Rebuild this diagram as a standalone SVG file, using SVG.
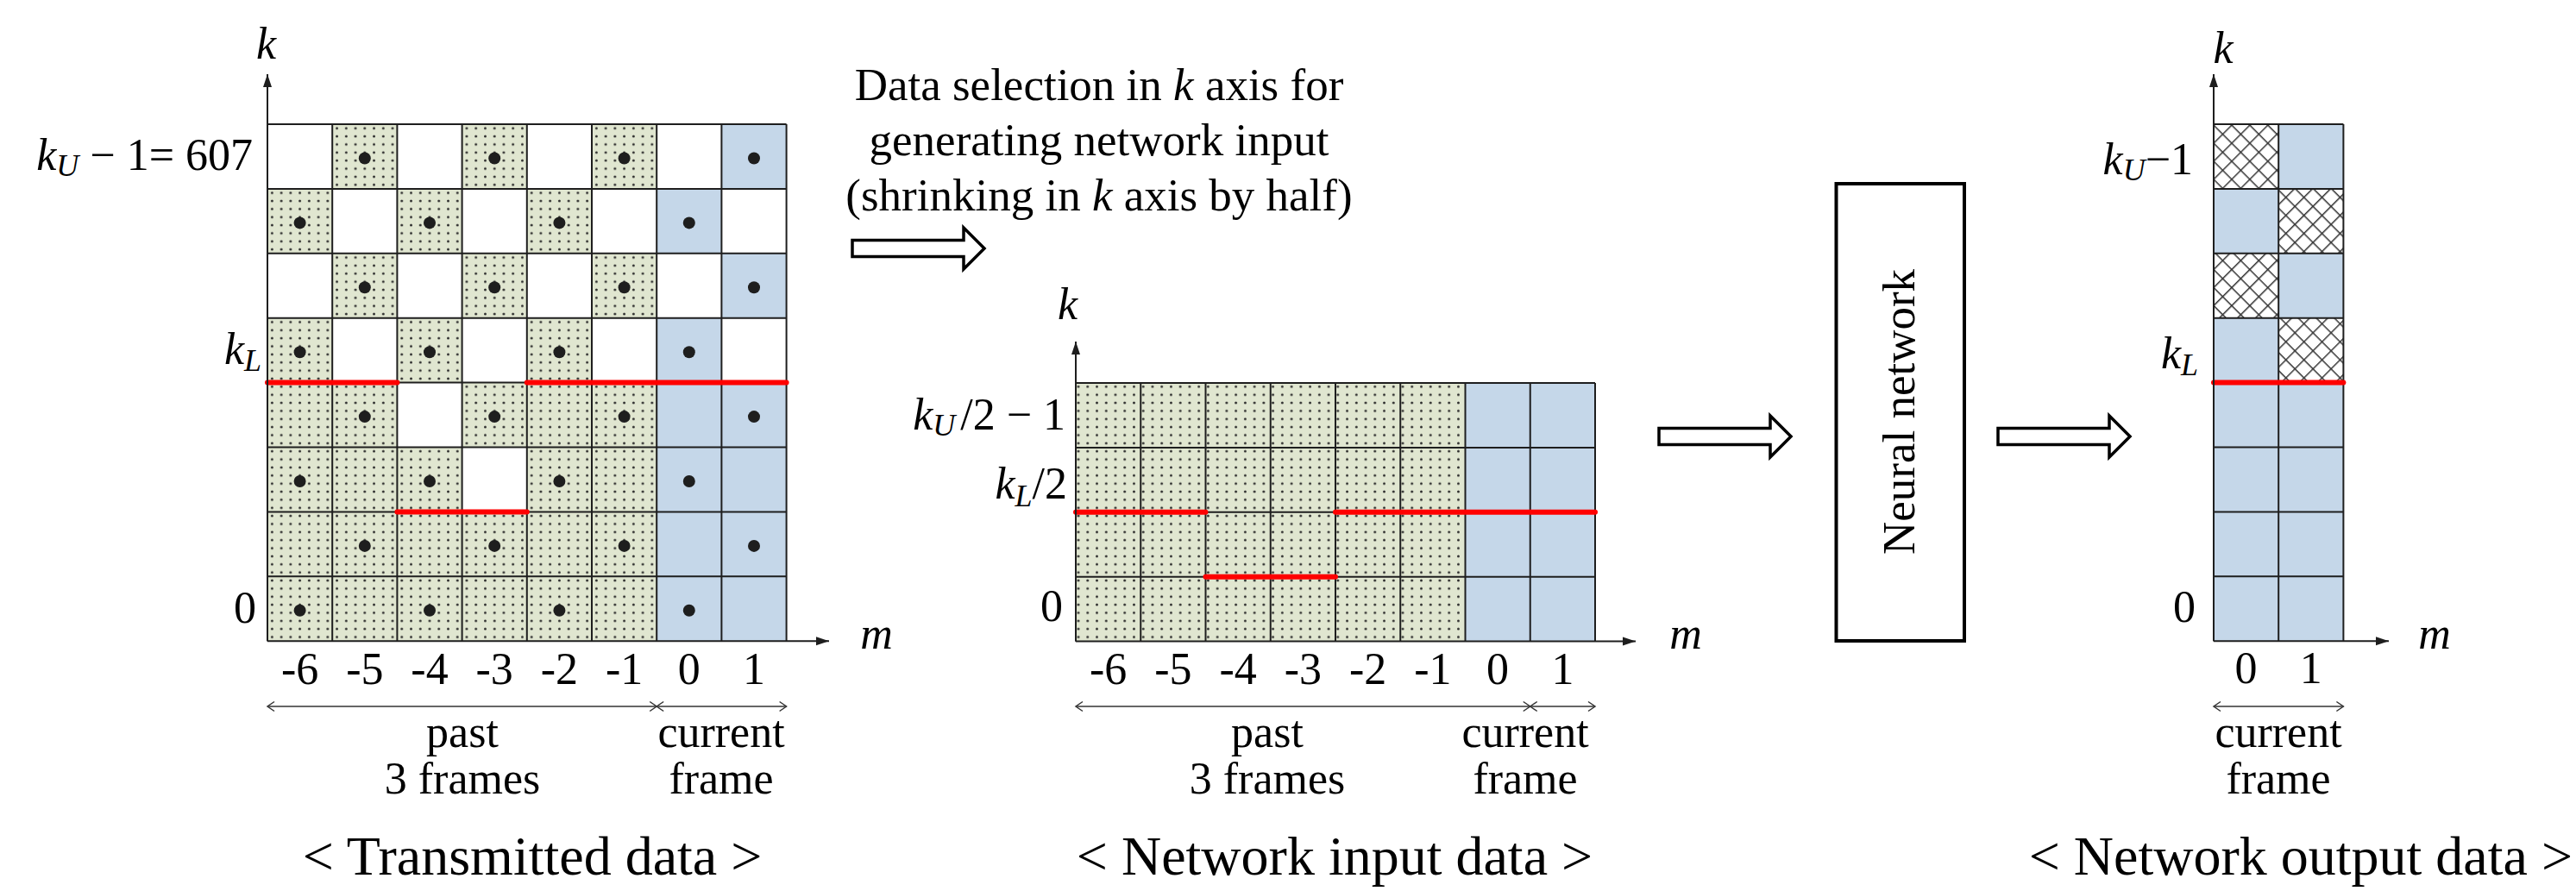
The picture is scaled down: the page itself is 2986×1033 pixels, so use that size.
<svg xmlns="http://www.w3.org/2000/svg" width="2986" height="1033" viewBox="0 0 2986 1033">
<style>
text{font-family:"Liberation Serif","Times New Roman",serif;fill:#000}
.t52{font-size:52px}
.t53{font-size:53px}
.t64{font-size:64px}
.i{font-style:italic}
.sub{font-size:36px;font-style:italic}
.grid{fill:none;stroke:#1e1e1e;stroke-width:2}
.red{fill:none;stroke:#ff0000;stroke-width:6;stroke-linecap:round}
.ax{fill:none;stroke:#1e1e1e;stroke-width:2;marker-end:url(#ah)}
.br{fill:none;stroke:#333;stroke-width:1.5;marker-start:url(#ch);marker-end:url(#ch)}
.g{fill:url(#stip)}
.b{fill:#c5d7e9}
.w{fill:#ffffff}
.h{fill:url(#hatch)}
.d{fill:#1e1e1e}
.blk{fill:#fff;stroke:#000;stroke-width:3.5;stroke-linejoin:miter}
</style>
<defs>
<pattern id="stip" patternUnits="userSpaceOnUse" x="310" y="144" width="10.743" height="9.3625">
<rect width="10.743" height="9.3625" fill="#e0e6d0"/>
<circle cx="5.37" cy="4.68" r="1.45" fill="#2a2a2a"/>
</pattern>
<pattern id="hatch" patternUnits="userSpaceOnUse" x="2566" y="144" width="14.8" height="14.8" patternTransform="rotate(45 2566 144)">
<rect width="14.8" height="14.8" fill="#fff"/>
<rect width="14.8" height="1.5" fill="#333"/>
<rect width="1.5" height="14.8" fill="#333"/>
</pattern>
<marker id="ah" viewBox="-16 -6 17 12" refX="0" refY="0" markerWidth="17" markerHeight="12" markerUnits="userSpaceOnUse" orient="auto">
<path d="M-15,-5 L0,0 L-15,5 Z" fill="#1e1e1e"/>
</marker>
<marker id="ch" viewBox="-10 -7 12 14" refX="0" refY="0" markerWidth="12" markerHeight="14" markerUnits="userSpaceOnUse" orient="auto-start-reverse">
<path d="M-8,-5.5 L0,0 L-8,5.5" fill="none" stroke="#333" stroke-width="1.5"/>
</marker>
<path id="blockarrow" d="M0,-9.5 H129 V-24 L153,0 L129,24 V9.5 H0 Z"/>
</defs>

<rect width="2986" height="1033" fill="#fff"/>

<!-- Transmitted data -->
<g id="transmitted">
<rect class="g" x="310" y="144" width="451.2" height="599.2"/>
<rect class="b" x="761.2" y="144" width="150.4" height="599.2"/>
<g class="w">
<rect x="310" y="144" width="75.2" height="74.9"/><rect x="460.4" y="144" width="75.2" height="74.9"/><rect x="610.8" y="144" width="75.2" height="74.9"/><rect x="761.2" y="144" width="75.2" height="74.9"/>
<rect x="385.2" y="218.9" width="75.2" height="74.9"/><rect x="535.6" y="218.9" width="75.2" height="74.9"/><rect x="686" y="218.9" width="75.2" height="74.9"/><rect x="836.4" y="218.9" width="75.2" height="74.9"/>
<rect x="310" y="293.8" width="75.2" height="74.9"/><rect x="460.4" y="293.8" width="75.2" height="74.9"/><rect x="610.8" y="293.8" width="75.2" height="74.9"/><rect x="761.2" y="293.8" width="75.2" height="74.9"/>
<rect x="385.2" y="368.7" width="75.2" height="74.9"/><rect x="535.6" y="368.7" width="75.2" height="74.9"/><rect x="686" y="368.7" width="75.2" height="74.9"/><rect x="836.4" y="368.7" width="75.2" height="74.9"/>
<rect x="460.4" y="443.6" width="75.2" height="74.9"/>
<rect x="535.6" y="518.5" width="75.2" height="74.9"/>
</g>
<g class="d">
<circle cx="422.8" cy="183.5" r="7"/><circle cx="573.2" cy="183.5" r="7"/><circle cx="723.6" cy="183.5" r="7"/><circle cx="874" cy="183.5" r="7"/>
<circle cx="347.6" cy="258.4" r="7"/><circle cx="498" cy="258.4" r="7"/><circle cx="648.4" cy="258.4" r="7"/><circle cx="798.8" cy="258.4" r="7"/>
<circle cx="422.8" cy="333.3" r="7"/><circle cx="573.2" cy="333.3" r="7"/><circle cx="723.6" cy="333.3" r="7"/><circle cx="874" cy="333.3" r="7"/>
<circle cx="347.6" cy="408.2" r="7"/><circle cx="498" cy="408.2" r="7"/><circle cx="648.4" cy="408.2" r="7"/><circle cx="798.8" cy="408.2" r="7"/>
<circle cx="422.8" cy="483.1" r="7"/><circle cx="573.2" cy="483.1" r="7"/><circle cx="723.6" cy="483.1" r="7"/><circle cx="874" cy="483.1" r="7"/>
<circle cx="347.6" cy="558" r="7"/><circle cx="498" cy="558" r="7"/><circle cx="648.4" cy="558" r="7"/><circle cx="798.8" cy="558" r="7"/>
<circle cx="422.8" cy="632.9" r="7"/><circle cx="573.2" cy="632.9" r="7"/><circle cx="723.6" cy="632.9" r="7"/><circle cx="874" cy="632.9" r="7"/>
<circle cx="347.6" cy="707.8" r="7"/><circle cx="498" cy="707.8" r="7"/><circle cx="648.4" cy="707.8" r="7"/><circle cx="798.8" cy="707.8" r="7"/>
</g>
<path class="grid" d="M310,144V743.2M385.2,144V743.2M460.4,144V743.2M535.6,144V743.2M610.8,144V743.2M686,144V743.2M761.2,144V743.2M836.4,144V743.2M911.6,144V743.2M310,144H911.6M310,218.9H911.6M310,293.8H911.6M310,368.7H911.6M310,443.6H911.6M310,518.5H911.6M310,593.4H911.6M310,668.3H911.6"/>
<path class="red" d="M310,443.6H460.4M610.8,443.6H911.6M460.4,593.4H610.8"/>
<path class="ax" d="M310,743.2V86"/>
<path class="ax" d="M310,743.2H961"/>
<text class="t52 i" x="308.5" y="68" text-anchor="middle">k</text>
<text class="t52 i" x="1016" y="752" text-anchor="middle">m</text>
<text class="t52" x="293" y="197" text-anchor="end"><tspan class="i">k</tspan><tspan class="sub" dy="7">U</tspan><tspan dy="-7"> − 1= 607</tspan></text>
<text class="t52" x="303" y="422" text-anchor="end"><tspan class="i">k</tspan><tspan class="sub" dy="8">L</tspan></text>
<text class="t52" x="297" y="722" text-anchor="end">0</text>
<g class="t52" text-anchor="middle">
<text x="347.6" y="793">-6</text><text x="422.8" y="793">-5</text><text x="498" y="793">-4</text><text x="573.2" y="793">-3</text><text x="648.4" y="793">-2</text><text x="723.6" y="793">-1</text><text x="798.8" y="793">0</text><text x="874" y="793">1</text>
</g>
<path class="br" d="M310,819H761.2"/>
<path class="br" d="M761.2,819H911.6"/>
<g class="t52" text-anchor="middle">
<text x="536" y="866">past</text><text x="536" y="920">3 frames</text>
<text x="836" y="866">current</text><text x="836" y="920">frame</text>
</g>
<text class="t64" x="617" y="1014" text-anchor="middle">&lt; Transmitted data &gt;</text>
</g>

<!-- Top note -->
<g id="note" class="t53" text-anchor="middle">
<text x="1274" y="116">Data selection in <tspan class="i">k</tspan> axis for</text>
<text x="1274" y="180">generating network input</text>
<text x="1274" y="244">(shrinking in <tspan class="i">k</tspan> axis by half)</text>
</g>

<!-- Network input data -->
<g id="network-input">
<rect class="g" x="1247" y="444" width="451.5" height="299.6"/>
<rect class="b" x="1698.5" y="444" width="150.5" height="299.6"/>
<path class="grid" d="M1247,444V743.6M1322.25,444V743.6M1397.5,444V743.6M1472.75,444V743.6M1548,444V743.6M1623.25,444V743.6M1698.5,444V743.6M1773.75,444V743.6M1849,444V743.6M1247,444H1849M1247,518.9H1849M1247,593.8H1849M1247,668.7H1849"/>
<path class="red" d="M1247,593.8H1397.5M1548,593.8H1849M1397.5,668.7H1548"/>
<path class="ax" d="M1247,743.6V396"/>
<path class="ax" d="M1247,743.6H1896"/>
<text class="t52 i" x="1237.5" y="370" text-anchor="middle">k</text>
<text class="t52 i" x="1954" y="752" text-anchor="middle">m</text>
<text class="t52" x="1235" y="498" text-anchor="end"><tspan class="i">k</tspan><tspan class="sub" dy="7">U</tspan><tspan dy="-7" dx="6">/2 − 1</tspan></text>
<text class="t52" x="1237" y="578" text-anchor="end"><tspan class="i">k</tspan><tspan class="sub" dy="9">L</tspan><tspan dy="-9">/2</tspan></text>
<text class="t52" x="1232" y="720" text-anchor="end">0</text>
<g class="t52" text-anchor="middle">
<text x="1284.6" y="793">-6</text><text x="1359.9" y="793">-5</text><text x="1435.1" y="793">-4</text><text x="1510.4" y="793">-3</text><text x="1585.6" y="793">-2</text><text x="1660.9" y="793">-1</text><text x="1736.1" y="793">0</text><text x="1811.4" y="793">1</text>
</g>
<path class="br" d="M1247,819H1773.75"/>
<path class="br" d="M1773.75,819H1849"/>
<g class="t52" text-anchor="middle">
<text x="1469" y="866">past</text><text x="1469" y="920">3 frames</text>
<text x="1768" y="866">current</text><text x="1768" y="920">frame</text>
</g>
<text class="t64" x="1547" y="1014" text-anchor="middle">&lt; Network input data &gt;</text>
</g>

<!-- Neural network -->
<g id="neural-network">
<rect x="2128.5" y="213" width="148.5" height="530" fill="#fff" stroke="#000" stroke-width="4"/>
<text class="t53" transform="translate(2219,477.5) rotate(-90)" text-anchor="middle">Neural network</text>
</g>

<!-- Network output data -->
<g id="network-output">
<rect class="b" x="2566" y="144" width="150.4" height="599.2"/>
<rect class="h" x="2566" y="144" width="75.2" height="74.9"/>
<rect class="h" x="2641.2" y="218.9" width="75.2" height="74.9"/>
<rect class="h" x="2566" y="293.8" width="75.2" height="74.9"/>
<rect class="h" x="2641.2" y="368.7" width="75.2" height="74.9"/>
<path class="grid" d="M2566,144V743.2M2641.2,144V743.2M2716.4,144V743.2M2566,144H2716.4M2566,218.9H2716.4M2566,293.8H2716.4M2566,368.7H2716.4M2566,443.6H2716.4M2566,518.5H2716.4M2566,593.4H2716.4M2566,668.3H2716.4"/>
<path class="red" d="M2566,443.6H2716.4"/>
<path class="ax" d="M2566,743.2V86"/>
<path class="ax" d="M2566,743.2H2769"/>
<text class="t52 i" x="2577" y="73" text-anchor="middle">k</text>
<text class="t52 i" x="2822" y="752" text-anchor="middle">m</text>
<text class="t52" x="2542" y="202" text-anchor="end"><tspan class="i">k</tspan><tspan class="sub" dy="7">U</tspan><tspan dy="-7">−1</tspan></text>
<text class="t52" x="2548" y="427" text-anchor="end"><tspan class="i">k</tspan><tspan class="sub" dy="8">L</tspan></text>
<text class="t52" x="2545" y="721" text-anchor="end">0</text>
<g class="t52" text-anchor="middle">
<text x="2603.6" y="792">0</text><text x="2678.8" y="792">1</text>
</g>
<path class="br" d="M2566,819H2716.4"/>
<g class="t52" text-anchor="middle">
<text x="2641" y="866">current</text><text x="2641" y="920">frame</text>
</g>
<text class="t64" x="2982" y="1014" text-anchor="end">&lt; Network output data &gt;</text>
</g>

<!-- Connectors -->
<g id="connectors" class="blk">
<use href="#blockarrow" transform="translate(988,288)"/>
<use href="#blockarrow" transform="translate(1923,506)"/>
<use href="#blockarrow" transform="translate(2316,506)"/>
</g>
</svg>
